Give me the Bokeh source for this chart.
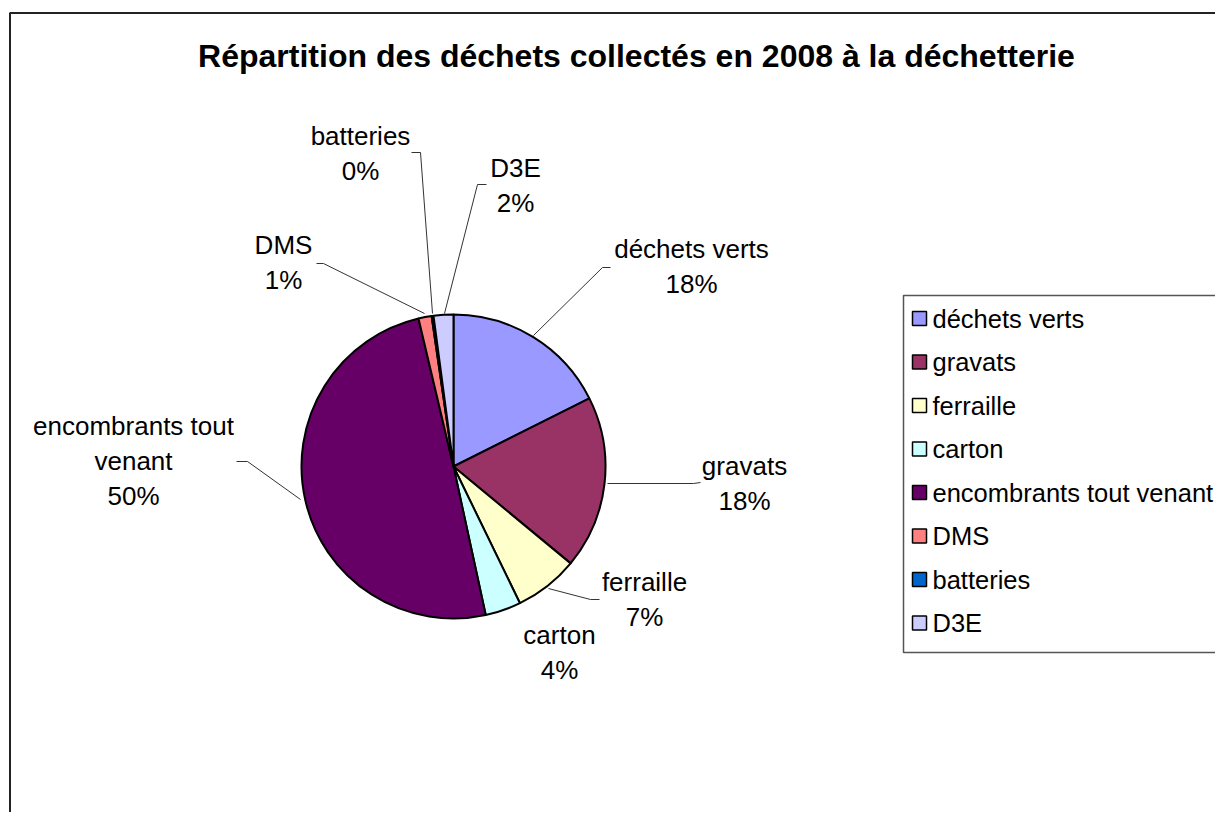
import math
from bokeh.plotting import figure
from bokeh.models import Range1d, ColumnDataSource
from bokeh.core.properties import value
from bokeh.embed import file_html
from bokeh.resources import INLINE

# ---- data ----
categories = ["déchets verts", "gravats", "ferraille", "carton",
              "encombrants tout venant", "DMS", "batteries", "D3E"]
shares = [17.6, 18.4, 6.8, 3.8, 49.7, 1.4, 0.2, 2.1]
colors = ["#9999FF", "#993366", "#FFFFCC", "#CCFFFF",
          "#660066", "#FF8080", "#0066CC", "#CCCCFF"]
title_text = "Répartition des déchets collectés en 2008 à la déchetterie"

# ---- layout (image pixel coordinates) ----
W, H = 1215, 812
CX, CY, R = 453, 466, 152
FONT = "Liberation Sans"

label_lines = {
    "déchets verts": ["déchets verts"],
    "gravats": ["gravats"],
    "ferraille": ["ferraille"],
    "carton": ["carton"],
    "encombrants tout venant": ["encombrants tout", "venant"],
    "DMS": ["DMS"],
    "batteries": ["batteries"],
    "D3E": ["D3E"],
}
label_pos = {  # centre x, first line centre y
    "déchets verts": (691, 248),
    "gravats": (744, 465),
    "ferraille": (644, 581),
    "carton": (559, 634),
    "encombrants tout venant": (133, 425),
    "DMS": (283, 244),
    "batteries": (360, 135),
    "D3E": (515, 167),
}
LINE_H = 35
leaders = {
    "déchets verts": [(533, 335), (602, 267), (610, 267)],
    "gravats": [(607, 483), (693, 483), (700, 482)],
    "ferraille": [(548, 588), (590, 599), (599, 599)],
    "encombrants tout venant": [(300, 499), (247, 461), (236, 461)],
    "DMS": [(424, 313), (323, 263), (316, 263)],
    "batteries": [(432, 313), (420, 152), (411, 152)],
    "D3E": [(444, 313), (477, 184), (486, 184)],
}
LEG_TOP, LEG_BOTTOM, LEG_ROW0, LEG_STEP = 295, 652, 318, 43.5

p = figure(width=W, height=H, output_backend="svg", toolbar_location=None,
           x_range=Range1d(0, W), y_range=Range1d(-H, 0),
           min_border=0)
p.axis.visible = False
p.grid.visible = False
p.outline_line_color = None
p.background_fill_color = "white"
p.border_fill_color = "white"

# outer frame (left & top visible, rest cropped)
p.line(x=[9.5, 9.5, 1300], y=[-900, -12.5, -12.5], line_color="#222222", line_width=2)

# title
p.text(x=[636], y=[-55], text=[title_text], text_font=value(FONT),
       text_font_size="32px", text_font_style="bold", text_align="center",
       text_baseline="middle", text_color="black")

# pie
total = sum(shares)
starts, ends = [], []
cum = 0.0
for s in shares:
    starts.append(math.pi / 2 - 2 * math.pi * cum / total)
    cum += s
    ends.append(math.pi / 2 - 2 * math.pi * cum / total)
src = ColumnDataSource(dict(start=starts, end=ends, color=colors, cat=categories))
p.wedge(x=CX, y=-CY, radius=R, start_angle="start", end_angle="end",
        direction="clock", fill_color="color", line_color="black",
        line_width=2, source=src)

# leader lines
for cat, pts in leaders.items():
    p.line(x=[q[0] for q in pts], y=[-q[1] for q in pts],
           line_color="#333333", line_width=1)

# data labels
for cat, s in zip(categories, shares):
    lines = label_lines[cat] + ["%d%%" % round(100 * s / total)]
    x0, y0 = label_pos[cat]
    p.text(x=[x0] * len(lines), y=[-(y0 + i * LINE_H) for i in range(len(lines))],
           text=lines, text_font=value(FONT), text_font_size="26px",
           text_align="center", text_baseline="middle", text_color="black")

# legend
p.quad(left=[903], right=[1300], top=[-LEG_TOP], bottom=[-LEG_BOTTOM],
       fill_color="white", line_color="#555555", line_width=1.5)
for i, (cat, col) in enumerate(zip(categories, colors)):
    ry = LEG_ROW0 + i * LEG_STEP
    p.quad(left=[912], right=[926], top=[-(ry - 7)], bottom=[-(ry + 7)],
           fill_color=col, line_color="black", line_width=1.5)
    p.text(x=[932], y=[-ry], text=[cat], text_font=value(FONT),
           text_font_size="25.5px", text_align="left", text_baseline="middle",
           text_color="black")

open("out.html", "w").write(file_html(p, INLINE))
